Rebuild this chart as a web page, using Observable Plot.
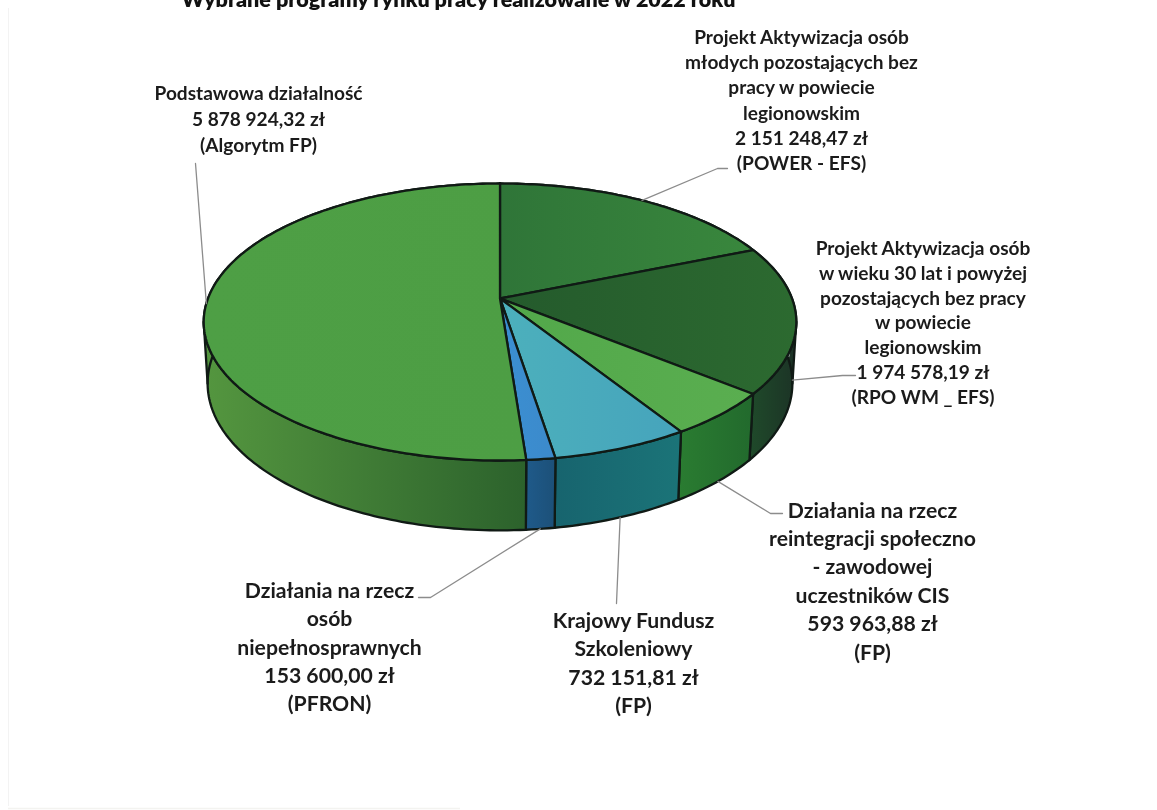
<!DOCTYPE html>
<html lang="pl">
<head>
<meta charset="utf-8">
<script src="https://cdn.jsdelivr.net/npm/d3@7"></script>
<script src="https://cdn.jsdelivr.net/npm/@observablehq/plot@0.6"></script>
<style>
  html, body { margin: 0; padding: 0; background: #fff; overflow: hidden; }
  svg { display: block; filter: blur(0.45px); }
</style>
</head>
<body>
<div id="chart"></div>
<script>
// ---- data (clockwise from twelve o'clock) ----
const categories = [
  "Projekt Aktywizacja osób\nmłodych pozostających bez\npracy w powiecie\nlegionowskim",
  "Projekt Aktywizacja osób\nw wieku 30 lat i powyżej\npozostających bez pracy\nw powiecie\nlegionowskim",
  "Działania na rzecz\nreintegracji społeczno\n- zawodowej\nuczestników CIS",
  "Krajowy Fundusz\nSzkoleniowy",
  "Działania na rzecz\nosób\nniepełnosprawnych",
  "Podstawowa działalność"
];
const values = [2151248.47, 1974578.19, 593963.88, 732151.81, 153600.00, 5878924.32];
const sources = ["(POWER - EFS)", "(RPO WM _ EFS)", "(FP)", "(FP)", "(PFRON)", "(Algorytm FP)"];
const titleText = "Wybrane programy rynku pracy realizowane w 2022 roku";

// ---- styling ----
const topFills = [
  ["#2f7538", "#39873d"], ["#245a2c", "#2c6a30"], ["#52a84a", "#5aae50"],
  ["#4cb0bc", "#46a4bc"], ["#3b8fd2", "#3c8acb"], ["#4e9f45", "#4d9e44"]
];
const sideFills = [
  ["#2f6b30", "#2f6b30"], ["#1f4a2a", "#1c3326"], ["#2a7c31", "#226a2d"],
  ["#17646e", "#1b7478"], ["#1f5a8a", "#1c5078"], ["#54963f", "#2c622c"]
];

// ---- label layout (separate from data) ----
const labelLayout = [
  {x: 801,   y: 98.5, size: 19.1, pitch: 25.3},
  {x: 922.5, y: 321,  size: 19.1, pitch: 24.8},
  {x: 872,   y: 579,  size: 21.2, pitch: 28.4},
  {x: 633,   y: 661,  size: 21.2, pitch: 28.4},
  {x: 329,   y: 645,  size: 21.2, pitch: 28.4},
  {x: 258,   y: 117,  size: 19.1, pitch: 26}
];
// anchor depth on the pie (0 = top rim, 1 = bottom rim), then elbow and end of each leader
const leaderLayout = [
  {depth: 0, path: [[717, 168], [727, 168]]},
  {depth: 1, path: [[842, 375], [855, 375]]},
  {depth: 1, path: [[770, 513], [782, 513]]},
  {depth: 1, path: [[616, 603]]},
  {depth: 1, path: [[430, 597], [418, 597]]},
  {depth: 0, path: [[195, 163]]}
];

// ---- perspective pie geometry ----
const pie = {cx: 499.5, cy: 298, a: 292, b: 134.5, p: 0.1697, h: 61, q: 0.013};
function project(deg, z) {
  const t = deg * Math.PI / 180, u = Math.sin(t), v = -Math.cos(t);
  const w = 1 - pie.p * v + pie.q * z;
  return {x: pie.cx + pie.a * u / w, y: pie.cy + (pie.b * v + pie.h * z) / w};
}
function arc(a0, a1, z) {
  const n = Math.max(2, Math.ceil(Math.abs(a1 - a0)));
  return d3.range(n + 1).map(i => project(a0 + (a1 - a0) * i / n, z));
}
const total = d3.sum(values);
const cum = d3.cumsum(values);
const slices = values.map((v, i) => ({
  i,
  a0: (i ? cum[i - 1] : 0) / total * 360,
  a1: cum[i] / total * 360
}));

const center = {x: pie.cx, y: pie.cy};
const topFace = s => [center, ...arc(s.a0, s.a1, 0), center];
const sideFace = s => {
  const t = arc(s.a0, s.a1, 0), b = arc(s.a1, s.a0, 1);
  return [...t, ...b, t[0]];
};
// the two tangent edges of the drum, where the wall turns out of sight
const silhouetteAngle = Math.acos(-pie.p) * 180 / Math.PI;
const rightEdge = silhouetteAngle, leftEdge = 360 - silhouetteAngle;
const silhouettes = [rightEdge, leftEdge].map(a => [project(a, 0), project(a, 1)]);
// wall filler between each tangent edge and the lower rim
const wallFill = (a, b) => [project(a, 0), ...arc(a, b, 1), project(a, 0)];

const money = v => d3.format(",.2f")(v).replace(/,/g, " ").replace(".", ",") + " zł";
const labels = categories.map((c, i) => ({
  text: `${c}\n${money(values[i])}\n${sources[i]}`, ...labelLayout[i]
}));

const edge = "#101a15";
const lineOpts = {x: "x", y: "y", strokeLinejoin: "round"};

function gradientDefs() {
  const ns = "http://www.w3.org/2000/svg";
  const g = document.createElementNS(ns, "defs");
  const add = (id, [c0, c1]) => {
    const lg = document.createElementNS(ns, "linearGradient");
    lg.setAttribute("id", id);
    [[0, c0], [1, c1]].forEach(([o, c]) => {
      const st = document.createElementNS(ns, "stop");
      st.setAttribute("offset", o);
      st.setAttribute("stop-color", c);
      lg.appendChild(st);
    });
    g.appendChild(lg);
  };
  topFills.forEach((c, i) => add("top" + i, c));
  sideFills.forEach((c, i) => add("side" + i, c));
  return g;
}

const marks = [
  gradientDefs,
  // faint scan edges of the page
  Plot.ruleX([8], {y1: 8, y2: 806, stroke: "#f3f3f3", strokeWidth: 1}),
  Plot.ruleY([808], {x1: 8, x2: 460, stroke: "#f3f3f0", strokeWidth: 1.5}),
  Plot.line(wallFill(leftEdge, leftEdge - 30), {...lineOpts, fill: sideFills[5][0], stroke: "none"}),
  Plot.line(wallFill(rightEdge, rightEdge + 20), {...lineOpts, fill: sideFills[1][1], stroke: "none"}),
  ...slices.map(s => Plot.line(sideFace(s), {...lineOpts, fill: `url(#side${s.i})`, stroke: edge, strokeWidth: 2.3})),
  ...silhouettes.map(pts => Plot.line(pts, {...lineOpts, stroke: edge, strokeWidth: 2.3})),
  ...slices.map(s => Plot.line(topFace(s), {...lineOpts, fill: `url(#top${s.i})`, stroke: edge, strokeWidth: 2.3})),
  ...slices.map(s => {
    const start = project((s.a0 + s.a1) / 2, leaderLayout[s.i].depth);
    const pts = [start, ...leaderLayout[s.i].path.map(([x, y]) => ({x, y}))];
    return Plot.line(pts, {...lineOpts, stroke: "#8c8c8c", strokeWidth: 1.3});
  }),
  ...labels.map(l => Plot.text([l], {
    x: "x", y: "y", text: "text",
    fontSize: l.size, lineHeight: l.pitch / l.size,
    fontFamily: "Lato", fontWeight: 700, fill: "#1b1b1b", textAnchor: "middle"
  })),
  Plot.text([titleText], {
    x: () => 735, y: () => 6, text: d => d, textAnchor: "end", lineAnchor: "bottom",
    fontSize: 21.5, fontFamily: "Lato", fontWeight: 800, fill: "#111"
  })
];

const chart = Plot.plot({
  width: 1157, height: 810,
  margin: 0,
  style: {background: "#fff"},
  x: {axis: null, domain: [0, 1157]},
  y: {axis: null, domain: [810, 0]},
  marks
});
document.getElementById("chart").appendChild(chart);
</script>
</body>
</html>
